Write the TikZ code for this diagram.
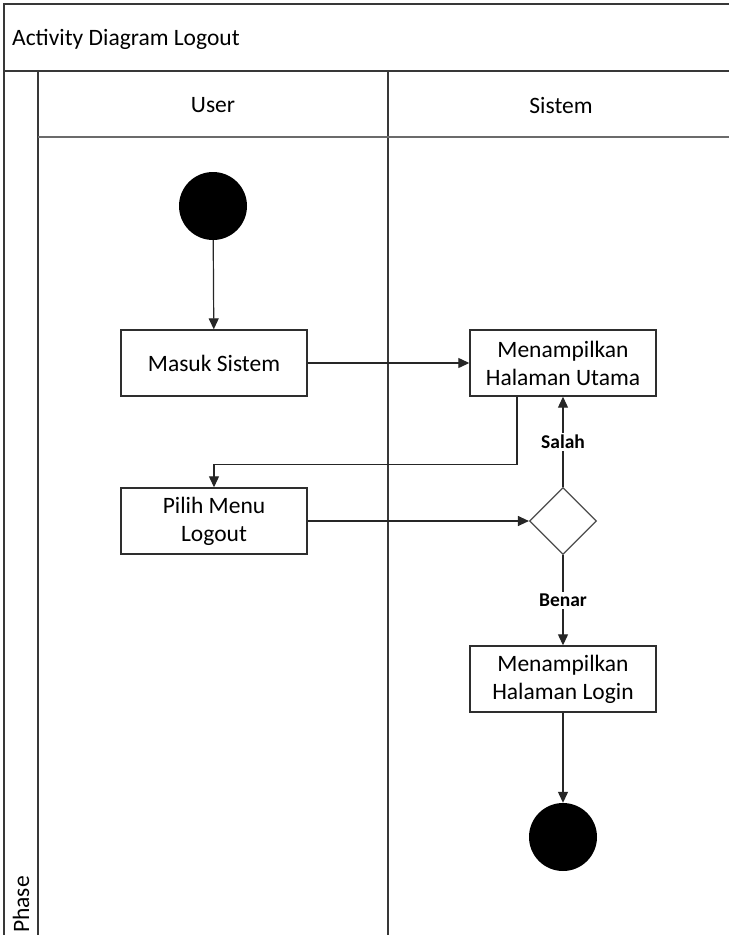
\documentclass[tikz,border=0pt]{standalone}
\usepackage{fontspec}
\setmainfont{Carlito}
\usetikzlibrary{arrows.meta,shapes.geometric}

\tikzset{
  frame/.style={draw=black!78, line width=1.5pt},
  inner/.style={draw=black!58, line width=1.3pt},
  actbox/.style={draw=black!82, line width=1.4pt, minimum width=186pt, minimum height=66pt,
    align=center, inner sep=0pt, font=\fontsize{23.5}{28}\selectfont},
  startdot/.style={circle, fill=black, minimum size=68pt, inner sep=0pt},
  decision/.style={diamond, draw=black!70, line width=1.2pt, minimum width=67pt, minimum height=67pt,
    inner sep=0pt, aspect=1},
  flow/.style={draw=black!85, line width=1.2pt, -{Triangle[length=11pt,width=10pt]}},
  guard/.style={fill=white, inner sep=2pt, font=\fontsize{19.5}{21}\selectfont\bfseries},
  lanetitle/.style={font=\fontsize{23.5}{26}\selectfont}
}

\begin{document}
\begin{tikzpicture}[x=1pt, y=-1pt]
  \useasboundingbox (0,0) rectangle (729,935);
  \fill[white] (0,0) rectangle (729,935);

  % pool frame and lanes
  \draw[frame] (4,935) -- (4,4) -- (729,4);
  \draw[frame] (4,71) -- (729,71);
  \draw[frame] (38,71) -- (38,935);
  \draw[frame] (388,71) -- (388,935);
  \draw[inner] (38,137) -- (729,137);

  % headers
  \node[lanetitle, anchor=west, inner sep=0pt] (title) at (12,39) {Activity Diagram Logout};
  \node[lanetitle] (laneuser) at (213,105) {User};
  \node[lanetitle] (lanesys) at (561,105) {Sistem};
  \node[lanetitle, rotate=90, anchor=west, inner sep=0pt] (phase) at (21,933) {Phase};

  % activity nodes
  \node[startdot] (start) at (213,206) {};
  \node[actbox] (masuk) at (214,363) {Masuk Sistem};
  \node[actbox] (utama) at (563,363) {Menampilkan\\Halaman Utama};
  \node[actbox] (pilih) at (214,521) {Pilih Menu\\Logout};
  \node[decision] (dec) at (563,521) {};
  \node[actbox] (login) at (563,679) {Menampilkan\\Halaman Login};
  \node[startdot] (stop) at (563,837) {};

  % control flow
  \draw[flow] (start) -- (masuk);
  \draw[flow] (masuk) -- (utama);
  \draw[flow] ([xshift=-46pt]utama.south) |- ([yshift=23pt]pilih.north) -- (pilih.north);
  \draw[flow] (pilih) -- (dec);
  \draw[flow] (dec.north) -- node[guard] (salah) {Salah} (utama.south);
  \draw[flow] (dec.south) -- node[guard] (benar) {Benar} (login.north);
  \draw[flow] (login) -- (stop);
\end{tikzpicture}
\end{document}
